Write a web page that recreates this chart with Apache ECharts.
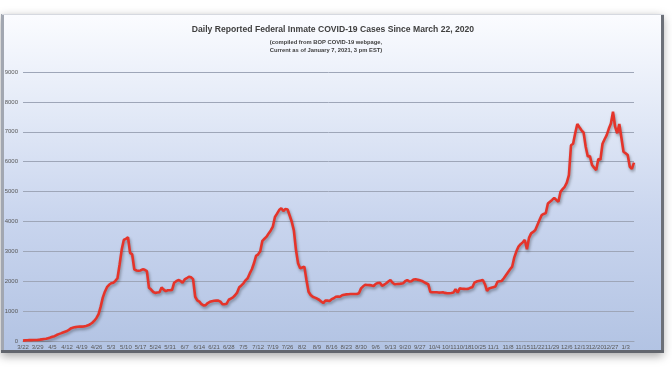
<!DOCTYPE html>
<html>
<head>
<meta charset="utf-8">
<script src="https://cdn.jsdelivr.net/npm/echarts@6/dist/echarts.min.js"></script>
<style>
html,body{margin:0;padding:0;background:#ffffff;}
#chart{width:672px;height:372px;}
</style>
</head>
<body>
<div id="chart"></div>
<script>
// Categories: daily dates from 3/22/2020 to 1/7/2021
var startDate = [2020, 2, 22];
var dayCount = 292;
var categories = [];
(function(){
  var d = new Date(startDate[0], startDate[1], startDate[2]);
  for (var i = 0; i < dayCount; i++) {
    categories.push((d.getMonth() + 1) + '/' + d.getDate());
    d.setDate(d.getDate() + 1);
  }
})();

var titleText = 'Daily Reported Federal Inmate COVID-19 Cases Since March 22, 2020';
var subtitleLines = ['(compiled from BOP COVID-19 webpage,', 'Current as of January 7, 2021, 3 pm EST)'];

var yTicks = [0, 1000, 2000, 3000, 4000, 5000, 6000, 7000, 8000, 9000];

// Daily reported cases
var cases = [
  14, 20, 25, 28, 30, 33, 35, 38, 45, 55,
  65, 75, 95, 115, 140, 160, 200, 230, 255, 285,
  310, 335, 380, 430, 450, 465, 475, 480, 480, 490,
  505, 525, 560, 610, 680, 770, 900, 1150, 1450, 1650,
  1800, 1880, 1930, 1950, 2010, 2100, 2550, 3050, 3380, 3420,
  3470, 2950, 2900, 2400, 2360, 2350, 2360, 2400, 2380, 2340,
  1780, 1720, 1640, 1610, 1620, 1630, 1790, 1720, 1670, 1700,
  1700, 1710, 1950, 2000, 2040, 2010, 1950, 2060, 2100, 2150,
  2130, 2070, 1480, 1360, 1320, 1230, 1190, 1200, 1270, 1310,
  1330, 1345, 1350, 1350, 1315, 1230, 1230, 1250, 1380, 1420,
  1460, 1530, 1620, 1800, 1860, 1930, 2030, 2100, 2260, 2400,
  2600, 2850, 2900, 3000, 3350, 3420, 3490, 3600, 3700, 3830,
  4150, 4260, 4380, 4440, 4350, 4420, 4400, 4200, 3990, 3700,
  3050, 2600, 2430, 2460, 2490, 2040, 1650, 1540, 1480, 1450,
  1420, 1380, 1320, 1270, 1350, 1350, 1340, 1400, 1430, 1480,
  1490, 1480, 1530, 1550, 1560, 1565, 1570, 1575, 1570, 1575,
  1600, 1760, 1830, 1880, 1875, 1870, 1860, 1840, 1910, 1940,
  1950, 1850, 1880, 1930, 1990, 2040, 1950, 1900, 1905, 1910,
  1920, 1930, 2000, 2040, 1990, 2000, 2060, 2065, 2050, 2030,
  2010, 1970, 1930, 1900, 1640, 1630, 1630, 1630, 1620, 1625,
  1630, 1610, 1600, 1600, 1605, 1620, 1730, 1620, 1760, 1750,
  1745, 1740, 1745, 1780, 1800, 1950, 1990, 2010, 2020, 2040,
  1900, 1680, 1760, 1780, 1800, 1820, 1980, 2000, 2010, 2100,
  2200, 2300, 2400, 2490, 2800, 3000, 3160, 3240, 3300, 3380,
  3070, 3450, 3600, 3650, 3710, 3880, 4050, 4210, 4250, 4280,
  4600, 4660, 4720, 4790, 4720, 4660, 4990, 5080, 5160, 5300,
  5550, 6550, 6600, 6950, 7260, 7150, 7050, 6970, 6500, 6170,
  6190, 5890, 5800, 5720, 6090, 6060, 6600, 6750, 6890, 7100,
  7280, 7670, 7170, 6950, 7260, 6800, 6330, 6280, 6220, 5830,
  5760, 5970
];

var chart = echarts.init(document.getElementById('chart'), null, {renderer: 'canvas'});
var font = '"Liberation Sans", Arial, sans-serif';

chart.setOption({
  animation: false,
  backgroundColor: '#ffffff',
  graphic: [
    {type: 'rect', z: -10, silent: true,
     shape: {x: 2, y: 14, width: 662, height: 339},
     style: {
       fill: new echarts.graphic.LinearGradient(0, 0, 0, 1, [
         {offset: 0, color: '#fbfcff'},
         {offset: 0.25, color: '#e6ecf8'},
         {offset: 0.6, color: '#c9d5ee'},
         {offset: 1, color: '#b2c3e3'}
       ]),
       shadowBlur: 9, shadowColor: 'rgba(0,0,0,0.35)', shadowOffsetX: -1, shadowOffsetY: 3
     }},
    {type: 'rect', z: -9, silent: true, shape: {x: 1, y: 14, width: 3, height: 339}, style: {fill: '#a2a7b1'}},
    {type: 'rect', z: -9, silent: true, shape: {x: 661, y: 14, width: 3, height: 339}, style: {fill: '#6c7078'}},
    {type: 'rect', z: -9, silent: true, shape: {x: 1, y: 350, width: 663, height: 3}, style: {fill: '#62666e'}},
    {type: 'rect', z: -9, silent: true, shape: {x: 2, y: 14, width: 662, height: 1}, style: {fill: '#d6d9e0'}}
  ],
  title: [{
    text: titleText,
    left: 328,
    textAlign: 'center',
    top: 20,
    textStyle: {fontFamily: font, fontSize: 8.6, fontWeight: 'bold', color: '#404040'}
  }, {
    text: subtitleLines.join('\n'),
    left: 321,
    textAlign: 'center',
    top: 33,
    textStyle: {fontFamily: font, fontSize: 5.8, fontWeight: 'bold', color: '#404040', lineHeight: 8}
  }],
  grid: {left: 23, top: 72, width: 611, height: 269, containLabel: false},
  xAxis: {
    type: 'category',
    data: categories,
    boundaryGap: false,
    axisLine: {show: true, lineStyle: {color: '#9aa3b5', width: 1}},
    axisTick: {show: false},
    axisLabel: {interval: 6, fontFamily: font, fontSize: 6, color: '#595959', margin: 3},
    splitLine: {show: false}
  },
  yAxis: {
    type: 'value',
    min: yTicks[0],
    max: yTicks[yTicks.length - 1],
    interval: yTicks[1] - yTicks[0],
    axisLine: {show: false},
    axisTick: {show: false},
    axisLabel: {fontFamily: font, fontSize: 6, color: '#595959', margin: 5, formatter: function (v) { return String(v); }},
    splitLine: {show: true, lineStyle: {color: '#9ea6b8', width: 1}}
  },
  series: [{
    type: 'line',
    data: cases,
    symbol: 'none',
    smooth: false,
    lineStyle: {color: '#e5342a', width: 2.6, shadowColor: 'rgba(0,0,0,0.35)', shadowBlur: 3, shadowOffsetX: 1, shadowOffsetY: 2}
  }]
});
</script>
</body>
</html>
